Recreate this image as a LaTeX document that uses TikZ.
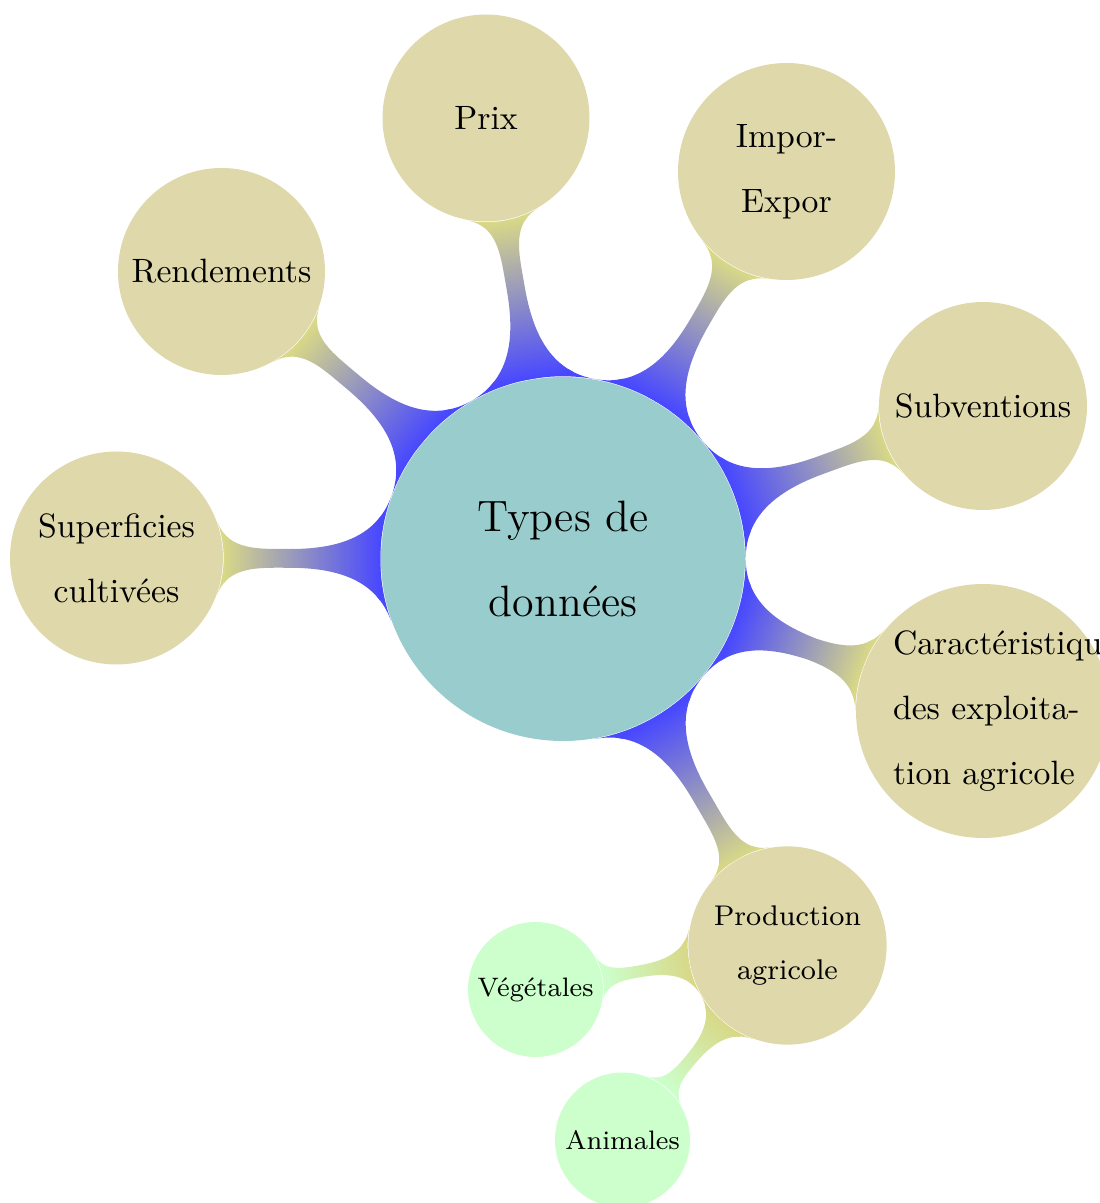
\documentclass[tikz,border=0pt]{standalone}
\usepackage{xcolor}
\usepackage{tikz}
\usetikzlibrary{mindmap}
\definecolor{rootblue}{RGB}{72,72,255}
\definecolor{rootfill}{RGB}{153,204,204}
\definecolor{topicyellow}{RGB}{216,216,136}
\definecolor{topicfill}{RGB}{222,216,170}
\definecolor{subgreen}{RGB}{204,255,204}

\begin{document}
\begin{tikzpicture}[
        idea/.style={concept, circle, draw=none, text=black, inner sep=0pt, align=center},
        rootidea/.style={idea, concept color=rootblue, fill=rootfill, minimum size=3.64cm, text width=3cm, font=\fontsize{12.5}{24.2}\selectfont},
        topic/.style={idea, concept color=topicyellow, fill=topicfill, minimum size=2.07cm, text width=1.82cm, font=\fontsize{9.6}{18.5}\selectfont},
        subtopic/.style={idea, concept color=subgreen, fill=subgreen, minimum size=1.35cm, text width=1.2cm, font=\fontsize{7.6}{14}\selectfont},
        link/.style={line width=6pt},
        sublink/.style={line width=4pt},
    ]
        \useasboundingbox (0,0) rectangle (10.99,12.03);

        \node[rootidea] (root) at (5.63,6.44) {Types de\\données};
        \node[topic] (prix) at (4.86,10.85) {Prix};
        \node[topic, minimum size=2.17cm] (impor) at (7.865,10.315) {Impor-\\Expor};
        \node[topic] (rend) at (2.215,9.315) {Rendements};
        \node[topic, minimum size=2.08cm] (subv) at (9.83,7.97) {Subventions};
        \node[topic, minimum size=2.13cm] (superf) at (1.165,6.45) {Superficies\\cultivées};
        \node[topic, minimum size=2.54cm, text width=1.8cm] (caract) at (9.83,4.92) {Caractéristiques\\\mbox{des exploita-}\\\mbox{tion agricole}};
        \node[topic, minimum size=1.81cm, font=\fontsize{8.1}{15.4}\selectfont] (prod) at (7.875,2.575) {Production\\agricole};
        \node[subtopic] (veget) at (5.355,2.135) {Végétales};
        \node[subtopic] (anim) at (6.225,0.63) {Animales};

        \path[link] (root) to[circle connection bar switch color=from (rootblue) to (topicyellow)] (prix);
        \path[link] (root) to[circle connection bar switch color=from (rootblue) to (topicyellow)] (impor);
        \path[link] (root) to[circle connection bar switch color=from (rootblue) to (topicyellow)] (rend);
        \path[link] (root) to[circle connection bar switch color=from (rootblue) to (topicyellow)] (subv);
        \path[link] (root) to[circle connection bar switch color=from (rootblue) to (topicyellow)] (superf);
        \path[link] (root) to[circle connection bar switch color=from (rootblue) to (topicyellow)] (caract);
        \path[link] (root) to[circle connection bar switch color=from (rootblue) to (topicyellow)] (prod);
        \path[sublink] (prod) to[circle connection bar switch color=from (topicyellow) to (subgreen)] (veget);
        \path[sublink] (prod) to[circle connection bar switch color=from (topicyellow) to (subgreen)] (anim);
    \end{tikzpicture}
\end{document}
